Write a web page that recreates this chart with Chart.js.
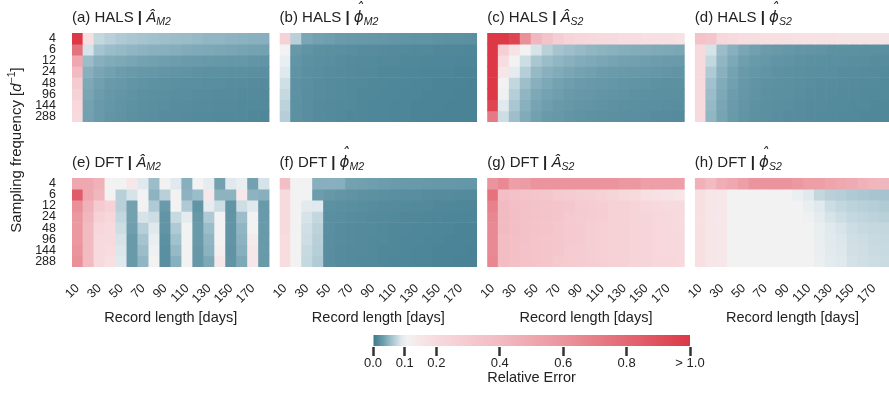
<!DOCTYPE html>
<html><head><meta charset="utf-8">
<script src="https://cdn.jsdelivr.net/npm/chart.js@4.4.1/dist/chart.umd.min.js"></script>
<style>
html,body{margin:0;padding:0;background:#fff;overflow:hidden;width:889px;height:397px;position:relative;}
canvas{position:absolute;left:0;top:0;}
</style></head><body>
<script>
// ---------------- data ----------------
const recordLengths = ['10','20','30','40','50','60','70','80','90','100','110','120','130','140','150','160','170','180'];
const samplingFreqs = ['4','6','12','24','48','96','144','288'];
const colorbarTicks = [0, 0.1, 0.2, 0.4, 0.6, 0.8, 1.0];

// (a) HALS | A_M2  (rows = sampling frequency, cols = record length)
const halsAmpM2 = [
 [1.0,0.18,0.075,0.07,0.065,0.062,0.06,0.058,0.056,0.055,0.054,0.052,0.05,0.05,0.048,0.047,0.046,0.045],
 [0.75,0.085,0.06,0.055,0.052,0.05,0.048,0.046,0.045,0.044,0.042,0.041,0.04,0.039,0.038,0.037,0.036,0.035],
 [0.5,0.055,0.045,0.042,0.04,0.038,0.036,0.034,0.033,0.032,0.031,0.03,0.029,0.028,0.027,0.027,0.026,0.025],
 [0.4,0.045,0.038,0.035,0.032,0.03,0.028,0.027,0.026,0.025,0.024,0.023,0.022,0.022,0.021,0.021,0.02,0.02],
 [0.3,0.04,0.034,0.03,0.028,0.026,0.024,0.023,0.022,0.021,0.02,0.02,0.019,0.019,0.018,0.018,0.017,0.017],
 [0.25,0.038,0.032,0.028,0.026,0.024,0.022,0.021,0.02,0.019,0.019,0.018,0.018,0.017,0.017,0.016,0.016,0.015],
 [0.22,0.036,0.03,0.027,0.025,0.023,0.021,0.02,0.019,0.018,0.018,0.017,0.017,0.016,0.016,0.015,0.015,0.015],
 [0.2,0.035,0.03,0.026,0.024,0.022,0.02,0.019,0.018,0.018,0.017,0.016,0.016,0.015,0.015,0.015,0.014,0.014]
];
// (b) HALS | phi_M2
const halsPhaM2 = [
 [0.25,0.07,0.038,0.035,0.033,0.031,0.03,0.029,0.028,0.027,0.026,0.025,0.024,0.024,0.023,0.022,0.022,0.021],
 [0.11,0.028,0.024,0.022,0.021,0.02,0.019,0.018,0.018,0.017,0.016,0.016,0.015,0.015,0.014,0.014,0.014,0.013],
 [0.1,0.025,0.022,0.02,0.019,0.018,0.017,0.016,0.016,0.015,0.015,0.014,0.014,0.013,0.013,0.013,0.012,0.012],
 [0.09,0.024,0.02,0.019,0.018,0.017,0.016,0.015,0.015,0.014,0.014,0.013,0.013,0.012,0.012,0.012,0.011,0.011],
 [0.082,0.023,0.02,0.018,0.017,0.016,0.015,0.015,0.014,0.014,0.013,0.013,0.012,0.012,0.011,0.011,0.011,0.01],
 [0.077,0.023,0.019,0.018,0.017,0.016,0.015,0.014,0.014,0.013,0.013,0.012,0.012,0.011,0.011,0.011,0.01,0.01],
 [0.072,0.022,0.019,0.017,0.016,0.015,0.015,0.014,0.013,0.013,0.012,0.012,0.011,0.011,0.011,0.01,0.01,0.01],
 [0.068,0.022,0.019,0.017,0.016,0.015,0.014,0.014,0.013,0.013,0.012,0.012,0.011,0.011,0.01,0.01,0.01,0.01]
];
// (c) HALS | A_S2
const halsAmpS2 = [
 [1.0,1.0,0.95,0.62,0.42,0.35,0.28,0.24,0.22,0.21,0.2,0.2,0.19,0.19,0.18,0.18,0.18,0.17],
 [1.0,0.27,0.16,0.11,0.085,0.07,0.06,0.056,0.053,0.05,0.048,0.046,0.044,0.043,0.042,0.041,0.04,0.039],
 [1.0,0.19,0.11,0.08,0.062,0.055,0.05,0.046,0.043,0.041,0.039,0.037,0.035,0.034,0.033,0.032,0.031,0.03],
 [1.0,0.15,0.095,0.068,0.052,0.046,0.042,0.039,0.036,0.034,0.032,0.031,0.03,0.029,0.028,0.027,0.026,0.025],
 [1.0,0.11,0.075,0.056,0.045,0.04,0.036,0.033,0.031,0.029,0.028,0.027,0.026,0.025,0.024,0.023,0.022,0.022],
 [1.0,0.105,0.068,0.05,0.04,0.036,0.033,0.03,0.028,0.027,0.026,0.025,0.024,0.023,0.022,0.021,0.021,0.02],
 [0.95,0.09,0.062,0.046,0.037,0.033,0.03,0.028,0.026,0.025,0.024,0.023,0.022,0.021,0.02,0.02,0.019,0.019],
 [0.72,0.08,0.056,0.042,0.034,0.03,0.028,0.026,0.024,0.023,0.022,0.021,0.02,0.02,0.019,0.018,0.018,0.017]
];
// (d) HALS | phi_S2
const halsPhaS2 = [
 [0.35,0.33,0.22,0.2,0.19,0.19,0.18,0.18,0.18,0.17,0.17,0.17,0.17,0.16,0.16,0.16,0.16,0.16],
 [0.2,0.085,0.055,0.045,0.038,0.034,0.031,0.029,0.027,0.026,0.025,0.024,0.023,0.022,0.022,0.021,0.021,0.02],
 [0.2,0.075,0.05,0.04,0.033,0.03,0.027,0.025,0.024,0.023,0.022,0.021,0.02,0.02,0.019,0.019,0.018,0.018],
 [0.2,0.065,0.046,0.036,0.03,0.027,0.025,0.023,0.022,0.021,0.02,0.019,0.019,0.018,0.018,0.017,0.017,0.016],
 [0.2,0.058,0.042,0.034,0.028,0.025,0.023,0.022,0.021,0.02,0.019,0.018,0.018,0.017,0.017,0.016,0.016,0.015],
 [0.2,0.055,0.04,0.032,0.027,0.024,0.022,0.021,0.02,0.019,0.018,0.017,0.017,0.016,0.016,0.015,0.015,0.015],
 [0.2,0.052,0.038,0.031,0.026,0.023,0.021,0.02,0.019,0.018,0.017,0.017,0.016,0.016,0.015,0.015,0.014,0.014],
 [0.2,0.05,0.037,0.03,0.025,0.022,0.021,0.019,0.018,0.018,0.017,0.016,0.016,0.015,0.015,0.014,0.014,0.014]
];
// (e) DFT | A_M2
const dftAmpM2 = [
 [0.5,0.5,0.45,0.11,0.11,0.14,0.09,0.055,0.11,0.09,0.045,0.11,0.095,0.035,0.09,0.1,0.035,0.085],
 [0.85,0.5,0.42,0.11,0.07,0.085,0.11,0.048,0.07,0.11,0.048,0.055,0.14,0.048,0.048,0.14,0.048,0.045],
 [0.62,0.45,0.3,0.25,0.07,0.035,0.11,0.065,0.03,0.11,0.065,0.025,0.095,0.08,0.025,0.08,0.09,0.03],
 [0.58,0.42,0.25,0.22,0.075,0.035,0.085,0.08,0.025,0.078,0.095,0.028,0.065,0.11,0.025,0.055,0.11,0.03],
 [0.58,0.4,0.22,0.2,0.08,0.033,0.068,0.09,0.025,0.065,0.11,0.03,0.055,0.11,0.025,0.05,0.11,0.03],
 [0.58,0.4,0.2,0.2,0.085,0.03,0.06,0.1,0.022,0.058,0.11,0.03,0.05,0.11,0.025,0.048,0.13,0.03],
 [0.6,0.4,0.2,0.19,0.088,0.03,0.055,0.105,0.02,0.052,0.11,0.028,0.047,0.12,0.024,0.045,0.14,0.03],
 [0.62,0.4,0.2,0.18,0.09,0.03,0.05,0.11,0.02,0.045,0.11,0.028,0.04,0.14,0.025,0.04,0.14,0.03]
];
// (f) DFT | phi_M2
const dftPhaM2 = [
 [0.38,0.11,0.11,0.045,0.045,0.045,0.035,0.034,0.033,0.032,0.031,0.03,0.03,0.029,0.028,0.028,0.027,0.027],
 [0.2,0.11,0.11,0.032,0.028,0.026,0.024,0.023,0.022,0.021,0.02,0.019,0.019,0.018,0.017,0.017,0.016,0.016],
 [0.2,0.11,0.092,0.09,0.022,0.021,0.02,0.019,0.018,0.017,0.017,0.016,0.015,0.015,0.014,0.014,0.013,0.013],
 [0.2,0.11,0.085,0.075,0.02,0.019,0.018,0.017,0.016,0.016,0.015,0.014,0.014,0.013,0.013,0.012,0.012,0.012],
 [0.2,0.11,0.082,0.072,0.02,0.018,0.017,0.016,0.016,0.015,0.014,0.014,0.013,0.013,0.012,0.012,0.011,0.011],
 [0.19,0.11,0.08,0.07,0.019,0.018,0.017,0.016,0.015,0.015,0.014,0.013,0.013,0.012,0.012,0.011,0.011,0.011],
 [0.19,0.11,0.078,0.068,0.019,0.017,0.016,0.016,0.015,0.014,0.014,0.013,0.012,0.012,0.011,0.011,0.011,0.01],
 [0.19,0.11,0.076,0.066,0.019,0.017,0.016,0.015,0.015,0.014,0.013,0.013,0.012,0.012,0.011,0.011,0.01,0.01]
];
// (g) DFT | A_S2
const dftAmpS2 = [
 [0.6,0.65,0.55,0.56,0.6,0.6,0.6,0.6,0.6,0.6,0.6,0.6,0.58,0.58,0.55,0.55,0.55,0.55],
 [0.75,0.38,0.36,0.34,0.33,0.32,0.3,0.29,0.28,0.27,0.25,0.23,0.21,0.2,0.18,0.17,0.16,0.15],
 [0.68,0.4,0.38,0.36,0.35,0.34,0.33,0.32,0.3,0.29,0.28,0.26,0.25,0.24,0.22,0.21,0.2,0.2],
 [0.66,0.4,0.38,0.36,0.35,0.34,0.33,0.31,0.3,0.29,0.28,0.26,0.25,0.24,0.23,0.22,0.21,0.2],
 [0.65,0.4,0.38,0.36,0.35,0.34,0.32,0.31,0.3,0.28,0.27,0.26,0.25,0.24,0.23,0.22,0.21,0.2],
 [0.65,0.39,0.37,0.36,0.34,0.33,0.32,0.31,0.3,0.28,0.27,0.26,0.25,0.24,0.23,0.22,0.21,0.21],
 [0.65,0.39,0.37,0.35,0.34,0.33,0.32,0.3,0.29,0.28,0.27,0.26,0.25,0.24,0.23,0.22,0.21,0.21],
 [0.66,0.39,0.37,0.35,0.34,0.33,0.31,0.3,0.29,0.28,0.27,0.26,0.25,0.24,0.23,0.22,0.22,0.21]
];
// (h) DFT | phi_S2
const dftPhaS2 = [
 [0.45,0.4,0.47,0.5,0.55,0.6,0.6,0.6,0.6,0.58,0.55,0.55,0.52,0.5,0.48,0.45,0.43,0.42],
 [0.18,0.15,0.14,0.11,0.11,0.11,0.11,0.11,0.11,0.1,0.09,0.075,0.07,0.068,0.065,0.063,0.061,0.06],
 [0.18,0.15,0.14,0.11,0.11,0.11,0.11,0.11,0.11,0.11,0.1,0.09,0.08,0.075,0.072,0.07,0.068,0.066],
 [0.18,0.15,0.14,0.11,0.11,0.11,0.11,0.11,0.11,0.11,0.105,0.095,0.085,0.08,0.076,0.074,0.072,0.07],
 [0.18,0.15,0.14,0.11,0.11,0.11,0.11,0.11,0.11,0.11,0.11,0.1,0.09,0.086,0.08,0.078,0.076,0.075],
 [0.18,0.15,0.14,0.11,0.11,0.11,0.11,0.11,0.11,0.11,0.11,0.1,0.092,0.088,0.082,0.08,0.078,0.077],
 [0.18,0.15,0.14,0.11,0.11,0.11,0.11,0.11,0.11,0.11,0.11,0.102,0.093,0.089,0.083,0.081,0.079,0.078],
 [0.18,0.15,0.14,0.11,0.11,0.11,0.11,0.11,0.11,0.11,0.11,0.103,0.094,0.09,0.084,0.082,0.08,0.079]
];

const panelLetters = ['a','b','c','d','e','f','g','h'];
const panelMethods = ['HALS','HALS','HALS','HALS','DFT','DFT','DFT','DFT'];
const panelSymbols = ['A','phi','A','phi','A','phi','A','phi'];
const panelSubs = ['M2','M2','S2','S2','M2','M2','S2','S2'];
const panelValues = [halsAmpM2, halsPhaM2, halsAmpS2, halsPhaS2, dftAmpM2, dftPhaM2, dftAmpS2, dftPhaS2];

// ---------------- style ----------------
const W = 910, H = 397;
const FONT = '"Liberation Sans", Arial, sans-serif';
const TXT = '#222';
Chart.defaults.font.family = FONT;
Chart.defaults.color = TXT;

const STOPS = [
 [0.00,[58,120,140]],[0.03,[105,154,170]],[0.06,[165,196,207]],[0.09,[224,233,237]],
 [0.11,[242,242,242]],[0.14,[246,232,234]],[0.2,[247,218,222]],[0.4,[242,187,194]],
 [0.6,[235,148,157]],[0.8,[226,104,116]],[1.0,[220,56,70]]
];
function rgb(c){return `rgb(${Math.round(c[0])},${Math.round(c[1])},${Math.round(c[2])})`;}
function colorOf(v){
  v = Math.max(0, Math.min(1, v));
  for (let i=1;i<STOPS.length;i++){
    const [v1,c1]=STOPS[i-1],[v2,c2]=STOPS[i];
    if (v<=v2){const t=(v-v1)/(v2-v1);return rgb([0,1,2].map(k=>c1[k]+(c2[k]-c1[k])*t));}
  }
  return rgb(STOPS[STOPS.length-1][1]);
}

const colL = k => 72 + k*207.6;
const PW = 197.5;
const rowT = [33, 178], PH = 89;
const YW = 40, XH = 70;

function makeCanvas(){
  const c = document.createElement('canvas');
  c.width = W; c.height = H; c.style.width = W+'px'; c.style.height = H+'px';
  document.body.appendChild(c);
  return c;
}

const panelBoxes = [];
panelValues.forEach((vals, p) => {
  const row = p < 4 ? 0 : 1, col = p % 4;
  const L = colL(col), R = L + PW, T = rowT[row], B = T + PH;
  panelBoxes.push({L,R,T,B});
  const showY = col === 0, showX = row === 1;
  const yScale = {
    type:'linear', min:0, max:8, reverse:true, display: showY,
    grid:{display:false, drawTicks:false}, border:{display:false},
    afterBuildTicks: s => { s.ticks = samplingFreqs.map((f,i)=>({value:i+0.5})); },
    ticks:{ autoSkip:false, padding:16, font:{size:12.5}, color:TXT, callback:(v,i)=>samplingFreqs[i] }
  };
  if (showY) yScale.afterFit = s => { s.width = YW; };
  const xScale = {
    type:'category', display: showX,
    grid:{display:false, drawTicks:false}, border:{display:false},
    ticks:{ autoSkip:false, maxRotation:45, minRotation:45, padding:14, font:{size:12.5}, color:TXT,
            callback:(v,i)=> i%2===0 ? recordLengths[i] : '' },
    title:{ display:true, text:'Record length [days]', font:{size:14.5}, color:TXT, padding:{top:0,bottom:10} }
  };
  if (showX) xScale.afterFit = s => { s.height = XH; };
  new Chart(makeCanvas(), {
    type:'bar',
    data:{
      labels: recordLengths,
      datasets: samplingFreqs.map((f,i)=>({
        label: f,
        data: recordLengths.map(()=>[i, i+1]),
        backgroundColor: vals[i].map(colorOf),
        borderWidth:0, barPercentage:1, categoryPercentage:1, grouped:false
      }))
    },
    options:{
      responsive:false, animation:false, events:[],
      plugins:{legend:{display:false}, tooltip:{enabled:false}},
      layout:{ padding:{ left: L - (showY?YW:0), right: W - R, top: T, bottom: H - B - (showX?XH:0) } },
      scales:{ x: xScale, y: yScale }
    }
  });
});

// ---------------- text helpers ----------------
function drawRuns(ctx, x, y, runs){
  let cx = x;
  for (const r of runs){
    ctx.font = r.font;
    ctx.fillText(r.text, cx, y + (r.dy||0));
    const w = ctx.measureText(r.text).width;
    if (r.hat){
      ctx.save(); ctx.font = r.font; ctx.textAlign='center';
      ctx.fillText('\u02C6', cx + w/2 + (r.hatDx||0), y + r.hatDy);
      ctx.restore();
    }
    cx += w;
  }
  return cx - x;
}
function measureRuns(ctx, runs){
  let w=0; for(const r of runs){ctx.font=r.font; w+=ctx.measureText(r.text).width;} return w;
}

const textPlugin = {
  id:'texts',
  afterDraw(chart){
    const ctx = chart.ctx;
    ctx.save();
    ctx.fillStyle = TXT; ctx.textBaseline = 'alphabetic'; ctx.textAlign='left';
    panelBoxes.forEach((b,p)=>{
      const base = `15px ${FONT}`;
      const runs = [
        {text:`(${panelLetters[p]}) ${panelMethods[p]} `, font:base},
        {text:'|', font:`bold ${base}`},
        {text:' ', font:base}
      ];
      if (panelSymbols[p]==='A') runs.push({text:'\u00C2', font:`italic ${base}`});
      else runs.push({text:'\u03D5', font:`italic 15px "DejaVu Sans"`, hat:true, hatDy:-8, hatDx:1});
      runs.push({text:panelSubs[p], font:`italic 10.5px ${FONT}`, dy:3});
      drawRuns(ctx, b.L, b.T - 11, runs);
    });
    // shared y-axis label
    const yl = [
      {text:'Sampling frequency [', font:`15px ${FONT}`},
      {text:'d', font:`italic 15px ${FONT}`},
      {text:'\u22121', font:`10.5px ${FONT}`, dy:-6},
      {text:']', font:`15px ${FONT}`}
    ];
    const w = measureRuns(ctx, yl);
    ctx.translate(21, 150); ctx.rotate(-Math.PI/2);
    drawRuns(ctx, -w/2, 0, yl);
    ctx.restore();
  }
};

// ---------------- colour bar ----------------
const cbL = 373, cbR = 690, cbT = 334, cbB = 347, cbXH = 40;
new Chart(makeCanvas(), {
  type:'bar',
  data:{ labels:['Relative Error'], datasets:[{
    data:[[colorbarTicks[0], colorbarTicks[colorbarTicks.length-1]]],
    backgroundColor:(c)=>{
      const ch=c.chart, xs=ch.scales.x;
      if(!ch.chartArea||!xs) return 'rgba(0,0,0,0)';
      const g=ch.ctx.createLinearGradient(xs.getPixelForValue(0),0,xs.getPixelForValue(1),0);
      STOPS.forEach(([v,col])=>g.addColorStop(v,rgb(col)));
      return g;
    },
    borderWidth:0, barPercentage:1, categoryPercentage:0.85
  }]},
  options:{
    indexAxis:'y', responsive:false, animation:false, events:[],
    plugins:{legend:{display:false}, tooltip:{enabled:false}},
    layout:{ padding:{ left:cbL, right:W-cbR, top:cbT, bottom:H-cbB-cbXH } },
    scales:{
      x:{ type:'linear', min:0, max:1, position:'bottom',
          afterBuildTicks:s=>{ s.ticks = colorbarTicks.map(v=>({value:v})); },
          afterFit:s=>{ s.height = cbXH; },
          grid:{display:true, drawOnChartArea:false, drawTicks:true, tickLength:9, tickWidth:2.5, tickColor:'#333', color:'#333'},
          border:{display:false},
          ticks:{ autoSkip:false, padding:0, font:{size:13}, color:TXT, callback:v=> v>=1 ? '> 1.0' : v.toFixed(1) },
          title:{ display:true, text:'Relative Error', font:{size:14.5}, color:TXT, padding:{top:0,bottom:0} }
      },
      y:{ type:'category', display:false }
    }
  },
  plugins:[textPlugin]
});
</script>
</body></html>
